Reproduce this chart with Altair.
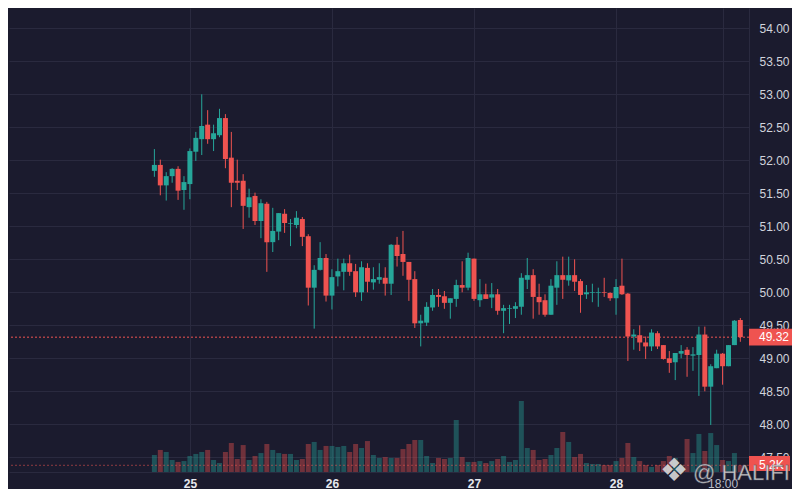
import altair as alt
import pandas as pd

# ---------------- data (hourly candles, 24th 18:00 -> 28th 21:00) ----------------
hour_index = list(range(100))
opens = [51.84, 51.93, 51.62, 51.76, 51.87, 51.55, 51.64, 52.13, 52.32, 52.54,
         52.32, 52.38, 52.64, 52.04, 51.69, 51.69, 51.29, 51.46, 51.08, 51.34,
         50.76, 50.92, 51.19, 51.04, 51.02, 51.11, 50.85, 50.07, 50.34, 50.52,
         49.95, 50.24, 50.31, 50.44, 50.32, 50.00, 50.37, 50.15, 50.19, 50.22,
         50.13, 50.72, 50.58, 50.46, 50.20, 49.53, 49.54, 49.77, 49.96, 49.94,
         49.84, 49.90, 50.11, 50.07, 50.51, 49.88, 49.97, 49.92, 49.97, 49.72,
         49.75, 49.75, 49.78, 50.19, 50.26, 49.93, 49.88, 49.66, 50.07, 50.26,
         50.18, 50.26, 50.17, 49.97, 49.99, 49.99, 50.00, 49.99, 49.91, 50.10,
         49.98, 49.33, 49.35, 49.24, 49.18, 49.38, 49.20, 49.00, 48.94, 49.07,
         49.13, 49.04, 49.05, 49.36, 48.57, 48.85, 49.07, 48.88, 49.20, 49.58]
highs = [52.17, 52.01, 51.82, 51.88, 51.91, 51.76, 52.18, 52.43, 53.00, 52.76,
         52.54, 52.78, 52.70, 52.43, 52.01, 51.79, 51.57, 51.51, 51.41, 51.37,
         51.28, 51.20, 51.26, 51.11, 51.23, 51.14, 50.88, 50.41, 50.76, 50.58,
         50.35, 50.51, 50.51, 50.57, 50.43, 50.47, 50.44, 50.38, 50.44, 50.38,
         50.73, 50.84, 50.93, 50.46, 50.32, 49.66, 49.85, 50.05, 50.05, 50.02,
         49.91, 50.19, 50.47, 50.60, 50.51, 50.20, 50.13, 50.14, 50.05, 49.81,
         49.81, 49.85, 50.29, 50.52, 50.35, 50.13, 49.97, 50.20, 50.47, 50.54,
         50.54, 50.50, 50.20, 50.11, 50.13, 50.07, 50.22, 50.00, 50.20, 50.51,
         49.99, 49.44, 49.50, 49.33, 49.44, 49.41, 49.20, 49.11, 49.08, 49.20,
         49.17, 49.17, 49.48, 49.48, 48.91, 49.13, 49.08, 49.20, 49.58, 49.61]
lows = [51.75, 51.47, 51.39, 51.66, 51.40, 51.25, 51.41, 51.99, 52.08, 52.25,
        52.14, 52.35, 51.88, 51.29, 51.55, 50.96, 51.13, 51.02, 50.82, 50.31,
        50.61, 50.79, 50.90, 50.70, 50.97, 50.70, 49.80, 49.45, 50.33, 49.86,
        49.74, 50.09, 50.03, 50.25, 49.93, 49.87, 50.00, 50.04, 50.13, 49.95,
        49.96, 50.39, 50.25, 49.87, 49.46, 49.18, 49.49, 49.72, 49.78, 49.75,
        49.60, 49.78, 50.00, 50.03, 49.87, 49.78, 49.90, 49.76, 49.66, 49.38,
        49.52, 49.61, 49.66, 50.05, 49.60, 49.66, 49.63, 49.66, 49.81, 49.90,
        50.10, 50.02, 49.69, 49.90, 49.85, 49.78, 49.93, 49.87, 49.66, 49.96,
        48.96, 49.13, 49.11, 48.99, 49.11, 49.14, 48.98, 48.78, 48.67, 49.00,
        48.72, 48.81, 48.43, 48.50, 47.99, 48.85, 48.60, 48.88, 49.20, 49.25]
closes = [51.93, 51.62, 51.76, 51.87, 51.54, 51.67, 52.14, 52.34, 52.52, 52.32,
          52.41, 52.64, 52.02, 51.66, 51.66, 51.31, 51.44, 51.08, 51.35, 50.76,
          50.93, 51.20, 51.05, 51.05, 51.13, 50.84, 50.07, 50.34, 50.52, 49.95,
          50.23, 50.32, 50.44, 50.31, 50.00, 50.38, 50.16, 50.20, 50.23, 50.13,
          50.72, 50.55, 50.46, 50.19, 49.53, 49.57, 49.78, 49.96, 49.93, 49.84,
          49.91, 50.11, 50.07, 50.52, 49.90, 49.97, 49.90, 49.97, 49.72, 49.76,
          49.76, 49.79, 50.22, 50.26, 49.93, 49.85, 49.66, 50.10, 50.26, 50.19,
          50.26, 50.16, 49.96, 50.00, 50.00, 50.00, 49.99, 49.91, 50.08, 49.97,
          49.33, 49.36, 49.24, 49.18, 49.39, 49.18, 48.99, 48.93, 49.08, 49.11,
          49.05, 49.06, 49.36, 48.57, 48.88, 49.07, 48.88, 49.20, 49.57, 49.32]
volumes_k = [13.2, 17.1, 15.5, 9.3, 7.8, 8.5, 12.4, 14.0, 15.5, 17.1,
             9.3, 7.0, 15.5, 22.5, 10.1, 20.9, 9.3, 12.4, 14.7, 21.7,
             17.1, 14.7, 14.0, 14.0, 9.3, 10.1, 21.7, 23.3, 17.1, 20.2,
             20.2, 19.4, 20.2, 15.5, 21.7, 18.6, 24.0, 13.2, 10.9, 11.6,
             10.9, 10.9, 17.8, 21.7, 24.8, 24.8, 12.4, 7.0, 10.9, 10.1,
             10.9, 40.3, 11.6, 7.8, 7.8, 8.5, 7.0, 8.5, 10.1, 12.4,
             7.8, 9.3, 55.0, 18.6, 17.1, 9.3, 10.1, 13.2, 18.6, 31.0,
             23.3, 11.6, 14.0, 7.0, 6.2, 6.2, 5.4, 5.4, 8.5, 10.9,
             22.5, 11.6, 8.5, 5.4, 3.9, 5.4, 8.5, 12.4, 10.9, 5.4,
             25.6, 14.7, 29.5, 16.3, 30.2, 20.9, 9.3, 8.5, 14.7, 5.2]

tick_pos = [6, 30, 54, 78, 96]
tick_text = ["25", "26", "27", "28", "18:00"]
price_ticks = [47.5, 48.0, 48.5, 49.0, 49.5, 50.0, 50.5, 51.0, 51.5, 52.0,
               52.5, 53.0, 53.5, 54.0]
last_price = 49.32
last_price_text = "49.32"
last_volume = 5.2
last_volume_text = "5.2K"
watermark_text = "@ HALIFI"
watermark_logo = "\u2756"

# ---------------- style ----------------
UP = "#26a69a"
DOWN = "#ef5350"
BG = "#1b1b2e"
GRID = "#2a2a3f"
LABEL = "#d1d4dc"
FONT = "Liberation Sans"

X_DOM = [-23.72, 99.62]
P_DOM = [47.2773, 54.3076]
V_DOM = [0, 359.7]

df = pd.DataFrame({"i": hour_index, "open": opens, "high": highs, "low": lows,
                   "close": closes, "volume": volumes_k})
df["color"] = [UP if c >= o else DOWN for o, c in zip(opens, closes)]

label_expr = " : ".join(f"datum.value == {p} ? '{t}'" for p, t in zip(tick_pos, tick_text)) + " : ''"

x_axis = alt.Axis(values=tick_pos, labelExpr=label_expr, grid=True, gridColor=GRID,
                  gridWidth=1, domain=True, domainColor=GRID, ticks=False, tickSize=0,
                  labelPadding=6, labelFontSize=12, labelFont=FONT, labelFlush=False,
                  labelFontWeight={"condition": {"test": "datum.value == 96", "value": "normal"},
                                   "value": "bold"},
                  labelColor={"condition": {"test": "datum.value == 96", "value": "#b8bcc8"},
                              "value": "#e6e8ee"},
                  title=None)
x_scale = alt.Scale(domain=X_DOM, nice=False, zero=False)


def xe():
    return alt.X("i:Q", scale=x_scale, axis=x_axis)


p_scale = alt.Scale(domain=P_DOM, nice=False, zero=False)
p_axis = alt.Axis(orient="right", values=price_ticks, format=".2f", grid=True,
                  gridColor=GRID, gridWidth=1, domain=True, domainColor=GRID,
                  ticks=False, tickSize=0, labelPadding=10, labelFontSize=12,
                  labelFont=FONT, labelColor=LABEL, labelFlush=False, title=None)
v_scale = alt.Scale(domain=V_DOM, nice=False, zero=True)

base = alt.Chart(df)

# volume group
vol_bars = base.mark_bar(size=5, opacity=0.4).encode(
    x=xe(), y=alt.Y("volume:Q", scale=v_scale, axis=None),
    color=alt.Color("color:N", scale=None))
vol_df = pd.DataFrame({"v": [last_volume], "top": [12.4], "bot": [0.8],
                       "txt": [last_volume_text]})
vol_line = alt.Chart(vol_df).mark_rule(color=DOWN, strokeDash=[2, 2], strokeWidth=1,
                                       opacity=0.55).encode(
    y=alt.Y("v:Q", scale=v_scale, axis=None))
vol_box = alt.Chart(vol_df).mark_rect(color=DOWN).encode(
    x=alt.value(740), x2=alt.value(781),
    y=alt.Y("top:Q", scale=v_scale, axis=None), y2="bot:Q")
vol_text = alt.Chart(vol_df).mark_text(align="left", baseline="middle", color="white",
                                       fontSize=12, font=FONT).encode(
    x=alt.value(750), y=alt.Y("v:Q", scale=v_scale, axis=None), text="txt:N")
vol_group = alt.layer(vol_bars, vol_line)

# price group
wicks = base.mark_rule(strokeWidth=1).encode(
    x=xe(), y=alt.Y("low:Q", scale=p_scale, axis=p_axis), y2="high:Q",
    color=alt.Color("color:N", scale=None))
bodies = base.mark_bar(size=5).encode(
    x=xe(), y=alt.Y("open:Q", scale=p_scale, axis=p_axis), y2="close:Q",
    color=alt.Color("color:N", scale=None))
pr_df = pd.DataFrame({"p": [last_price], "top": [last_price + 0.126],
                      "bot": [last_price - 0.126], "txt": [last_price_text]})
price_line = alt.Chart(pr_df).mark_rule(color=DOWN, strokeDash=[2, 2], strokeWidth=1).encode(
    y=alt.Y("p:Q", scale=p_scale, axis=p_axis))
price_box = alt.Chart(pr_df).mark_rect(color=DOWN).encode(
    x=alt.value(740), x2=alt.value(783),
    y=alt.Y("top:Q", scale=p_scale, axis=p_axis), y2="bot:Q")
price_text = alt.Chart(pr_df).mark_text(align="left", baseline="middle", color="white",
                                        fontSize=12, font=FONT).encode(
    x=alt.value(750), y=alt.Y("p:Q", scale=p_scale, axis=p_axis), text="txt:N")
price_group = alt.layer(price_line, wicks, bodies, price_box, price_text)

# watermark
wm_df = pd.DataFrame({"logo": [watermark_logo], "name": [watermark_text]})
wm_logo = alt.Chart(wm_df).mark_text(align="center", baseline="middle", fontSize=32,
                                     color="#d9d9d9", opacity=0.9, font="DejaVu Sans").encode(
    x=alt.value(665), y=alt.value(463), text="logo:N")
wm_name = alt.Chart(wm_df).mark_text(align="left", baseline="middle", fontSize=22,
                                     color="#d9d9d9", opacity=0.9, font=FONT,
                                     stroke="#555566", strokeWidth=0.5).encode(
    x=alt.value(684), y=alt.value(465), text="name:N")

vol_labels = alt.layer(vol_box, vol_text)

chart = alt.layer(vol_group, price_group, vol_labels, wm_logo, wm_name).resolve_scale(
    y="independent"
).properties(
    width=740, height=464, background=BG,
    padding={"left": 0, "top": 0, "right": 0, "bottom": 0}
).configure_view(stroke=None)

chart.save("out.html", embed_options={"renderer": "svg", "actions": False})
